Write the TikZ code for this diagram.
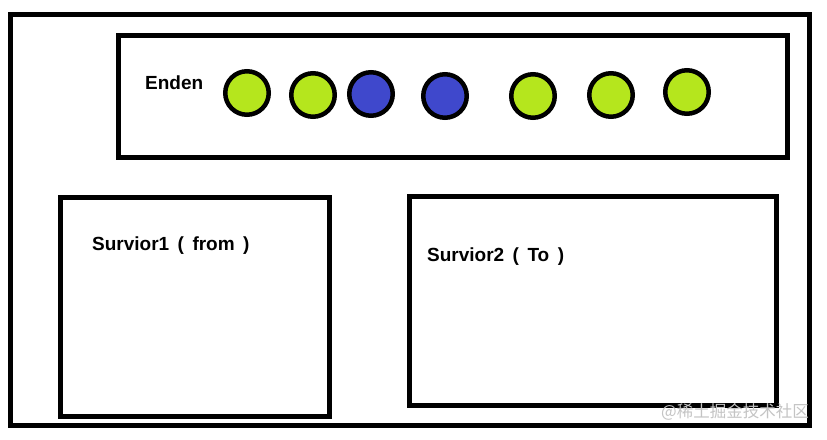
\documentclass[tikz,border=0pt]{standalone}
\usepackage{fontspec}
\setmainfont{Liberation Sans}
\newfontfamily\cjkfont{Noto Sans CJK SC}
\definecolor{limeg}{HTML}{B5E61D}
\definecolor{indigob}{HTML}{3F48CC}
\definecolor{wmgray}{HTML}{C4C4C4}
\begin{document}
\begin{tikzpicture}[x=1pt,y=-1pt,
  box/.style={draw=black,line width=5pt},
  ball/.style={circle,draw=black,line width=4.5pt,minimum size=43.5pt,inner sep=0pt},
  gball/.style={ball,fill=limeg},
  bball/.style={ball,fill=indigob},
  lbl/.style={font=\fontsize{19}{22}\selectfont\bfseries,anchor=base west,inner sep=0pt}]
\useasboundingbox (0,0) rectangle (827,439);
\fill[white] (0,0) rectangle (827,439);
\draw[box] (10.5,14.5) rectangle (809.5,425.5);
\draw[box] (118.5,35.5) rectangle (787.5,157);
\draw[box] (60.5,197.5) rectangle (329.5,416.5);
\draw[box] (409.5,196.5) rectangle (776.5,405.5);
\node[lbl] (eden) at (145,89) {Enden};
\node[gball] (c1) at (247,93) {};
\node[gball] (c2) at (313,95) {};
\node[bball] (c3) at (371,94) {};
\node[bball] (c4) at (445,96) {};
\node[gball] (c5) at (533,96) {};
\node[gball] (c6) at (611,95) {};
\node[gball] (c7) at (687,92) {};
\node[lbl] (s1) at (92,250.5) {Survior1 \,(\, from\, )};
\node[lbl] (s2) at (427,261.5) {Survior2 \,(\, To\, )};
\node[font=\cjkfont\fontsize{16.5}{18}\selectfont,text=wmgray,anchor=base east,inner sep=0pt] (wm) at (809,417) {@稀土掘金技术社区};
\end{tikzpicture}
\end{document}
